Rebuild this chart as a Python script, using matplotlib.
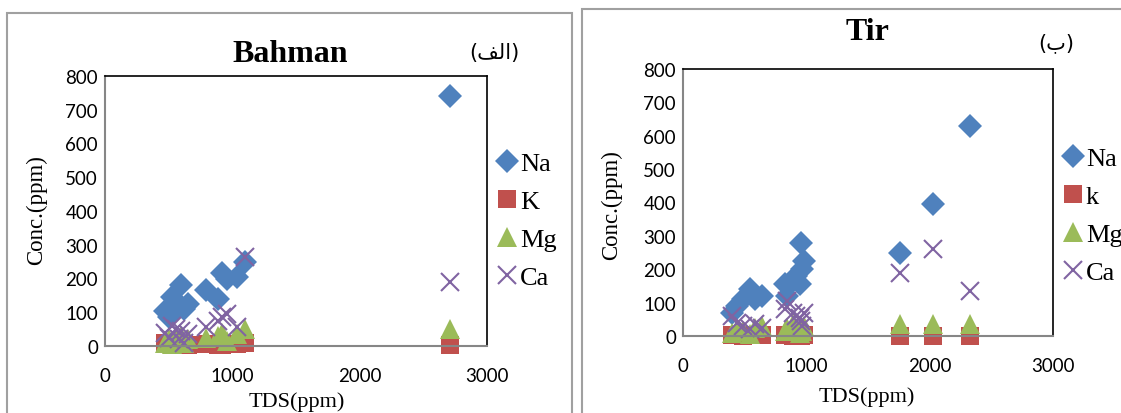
import matplotlib
matplotlib.use("Agg")
import matplotlib.pyplot as plt
from matplotlib.patches import Rectangle

# Bahman samples
bahman_tds = [470, 500, 530, 560, 580, 600, 620, 650, 790, 890, 920, 960, 1040, 1100, 2710]
bahman_na = [105, 85, 145, 130, 115, 180, 110, 125, 165, 140, 215, 200, 205, 250, 740]
bahman_k = [8, 5, 10, 4, 6, 3, 7, 2, 5, 3, 4, 6, 5, 8, 3]
bahman_mg = [10, 20, 5, 25, 15, 30, 10, 20, 25, 30, 40, 15, 35, 50, 50]
bahman_ca = [40, 25, 60, 50, 20, 45, 10, 35, 55, 75, 85, 95, 55, 265, 190]

# Tir samples
tir_tds = [395, 435, 490, 545, 585, 640, 830, 840, 895, 920, 950, 955, 965, 980, 1760, 2030, 2330]
tir_na = [70, 90, 110, 140, 110, 120, 155, 120, 165, 180, 155, 280, 200, 225, 250, 395, 628]
tir_k = [2, 3, 1, 2, 4, 2, 3, 2, 1, 2, 3, 1, 2, 2, 1, 1, 0]
tir_mg = [10, 20, 15, 5, 25, 30, 15, 25, 35, 20, 10, 25, 15, 30, 35, 35, 35]
tir_ca = [60, 40, 30, 20, 35, 25, 80, 105, 70, 60, 55, 45, 30, 70, 190, 260, 135]

x_ticks = [0, 1000, 2000, 3000]
y_ticks = [0, 100, 200, 300, 400, 500, 600, 700, 800]

W, H = 1121, 414
fig = plt.figure(figsize=(W / 100, H / 100), dpi=100)


def fx(x):
    return x / W


def fy(y):
    return 1 - y / H


serif = "Liberation Serif"
tick_font = "Lato"

# panel frames
fig.add_artist(Rectangle((fx(7), fy(430)), fx(572 - 7), (430 - 14) / H,
                         transform=fig.transFigure, fill=False, ec="#a0a0a0", lw=1.5))
fig.add_artist(Rectangle((fx(582), fy(430)), fx(1140 - 582), (430 - 10) / H,
                         transform=fig.transFigure, fill=False, ec="#a0a0a0", lw=1.5))


def panel(box, tds, na, k, mg, ca, labels, leg_anchor):
    ax = fig.add_axes(box)
    ax.plot(tds, na, "D", color="#4F81BD", ms=12.5, mew=0, clip_on=False, label=labels[0])
    ax.plot(tds, k, "s", color="#C0504D", ms=13, mew=0, clip_on=False, label=labels[1])
    ax.plot(tds, mg, "^", color="#9BBB59", ms=14, mew=0, clip_on=False, label=labels[2])
    ax.plot(tds, ca, "x", color="#8064A2", ms=13, mew=1.5, clip_on=False, label=labels[3])
    ax.set_xlim(0, 3000)
    ax.set_ylim(0, 800)
    ax.set_xticks(x_ticks)
    ax.set_yticks(y_ticks)
    ax.tick_params(length=0, labelsize=13.5)
    ax.tick_params(axis="x", pad=15)
    ax.tick_params(axis="y", pad=5)
    for lab in ax.get_xticklabels() + ax.get_yticklabels():
        lab.set_fontfamily(tick_font)
    for side in ["left", "bottom"]:
        ax.spines[side].set_color("#868686")
        ax.spines[side].set_linewidth(1.5)
    for side in ["top", "right"]:
        ax.spines[side].set_color("black")
        ax.spines[side].set_linewidth(1.2)
    ax.legend(loc="upper left", bbox_to_anchor=leg_anchor, frameon=False,
              prop={"family": serif, "size": 19}, handlelength=0.75,
              handletextpad=0.1, labelspacing=0.55, borderaxespad=0)
    return ax


panel([fx(105), fy(347), fx(487 - 105), (347 - 77) / H],
      bahman_tds, bahman_na, bahman_k, bahman_mg, bahman_ca,
      ["Na", "K", "Mg", "Ca"], (1.0, 0.758))
panel([fx(683), fy(337), fx(1053 - 683), (337 - 70) / H],
      tir_tds, tir_na, tir_k, tir_mg, tir_ca,
      ["Na", "k", "Mg", "Ca"], (1.0, 0.75))

# titles, panel letters and axis labels
fig.text(fx(290), fy(54), "Bahman", family=serif, weight="bold", size=23,
         ha="center", va="center")
fig.text(fx(868), fy(33), "Tir", family=serif, weight="bold", size=23,
         ha="center", va="center")
fig.text(fx(494), fy(53), "(\uFED2\uFEDF\uFE8D)", family="DejaVu Sans", size=15,
         ha="center", va="center")
fig.text(fx(1056), fy(43), "(\uFE8F)", family="DejaVu Sans", size=15,
         ha="center", va="center")

fig.text(fx(37), fy(210), "Conc.(ppm)", family=serif, size=16.5, rotation=90,
         ha="center", va="center")
fig.text(fx(612), fy(205), "Conc.(ppm)", family=serif, size=16.5, rotation=90,
         ha="center", va="center")
fig.text(fx(297), fy(402), "TDS(ppm)", family=serif, size=16,
         ha="center", va="center")
fig.text(fx(867), fy(397), "TDS(ppm)", family=serif, size=16,
         ha="center", va="center")

fig.savefig("out.png", dpi=100)
